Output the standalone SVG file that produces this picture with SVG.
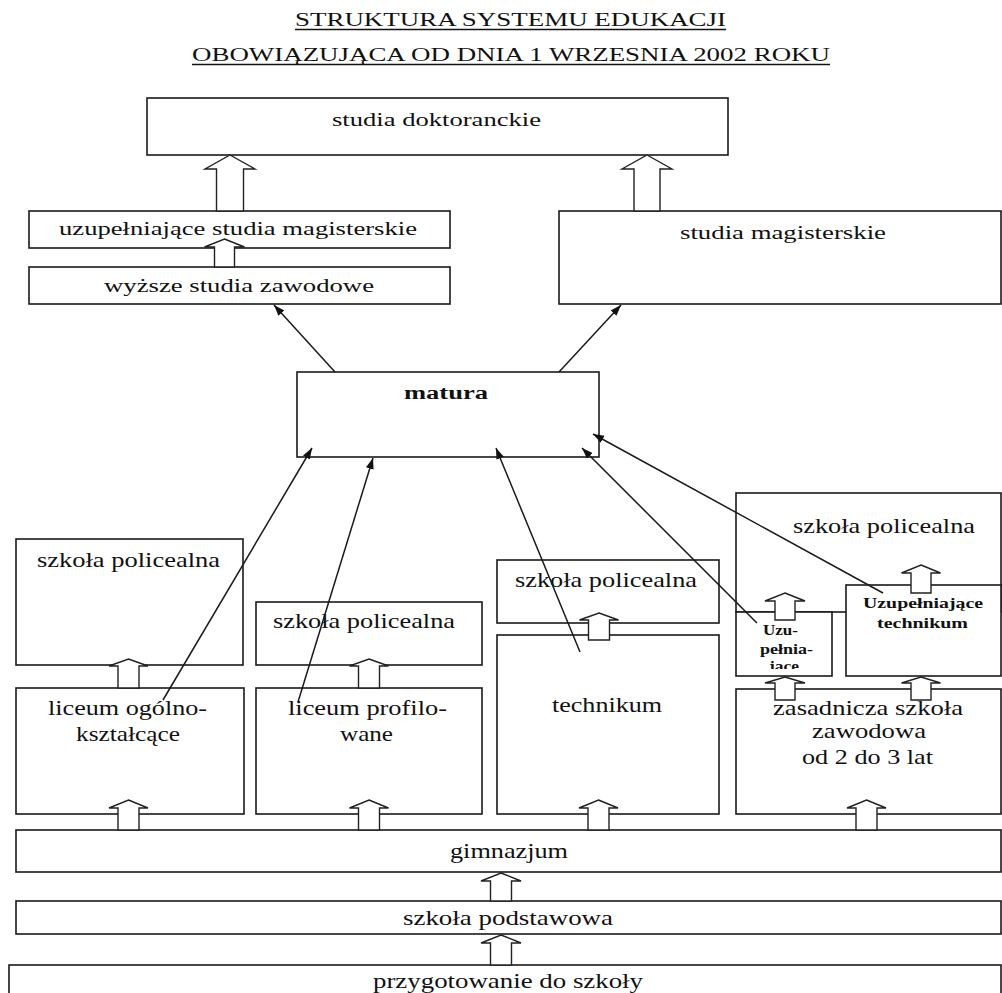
<svg xmlns="http://www.w3.org/2000/svg" width="1002" height="993" viewBox="0 0 1002 993">
<style>
.box{fill:#fff;stroke:#1a1a1a;stroke-width:1.6}
.t{font-family:"Liberation Serif","Times New Roman",serif;fill:#111;text-anchor:middle}
.s18{font-size:18px}
.s22{font-size:22px}
.s15{font-size:15px}
.s14{font-size:14px}
.title{font-size:19px}
.blk{fill:#fff;stroke:#222;stroke-width:1.4;stroke-linejoin:miter}
.ln{stroke:#1a1a1a;stroke-width:1.5;fill:none;marker-end:url(#ah)}
.ul{stroke:#111;stroke-width:1.3}
</style>
<defs>
<marker id="ah" markerUnits="userSpaceOnUse" markerWidth="12" markerHeight="10" refX="11" refY="4" orient="auto">
<path d="M0,0 L11,4 L0,8 Z" fill="#111"/>
</marker>
<clipPath id="clipUzu"><rect x="736" y="612" width="96" height="57"/></clipPath>
</defs>
<rect width="1002" height="993" fill="#fff"/>

<g id="title">
<text class="t title" x="510.5" y="26" textLength="431" lengthAdjust="spacingAndGlyphs">STRUKTURA SYSTEMU EDUKACJI</text>
<line class="ul" x1="295" y1="29.5" x2="726" y2="29.5"/>
<text class="t title" x="511" y="61" textLength="638" lengthAdjust="spacingAndGlyphs">OBOWIĄZUJĄCA OD DNIA 1 WRZESNIA 2002 ROKU</text>
<line class="ul" x1="192" y1="64.5" x2="830" y2="64.5"/>
</g>

<g id="n-doktoranckie"><rect class="box" x="147" y="98" width="581" height="57"/><text class="t s18" x="436.5" y="126" textLength="209" lengthAdjust="spacingAndGlyphs">studia doktoranckie</text></g>
<g id="n-uzup-mag"><rect class="box" x="29" y="211" width="421" height="37"/><text class="t s18" x="238" y="235" textLength="358" lengthAdjust="spacingAndGlyphs">uzupełniające studia magisterskie</text></g>
<g id="n-wyzsze"><rect class="box" x="29" y="267" width="421" height="37"/><text class="t s18" x="239" y="292" textLength="270" lengthAdjust="spacingAndGlyphs">wyższe studia zawodowe</text></g>
<g id="n-studia-mag"><rect class="box" x="559" y="211" width="442" height="93"/><text class="t s18" x="783" y="239" textLength="206" lengthAdjust="spacingAndGlyphs">studia magisterskie</text></g>
<g id="n-matura"><rect class="box" x="297" y="372" width="302" height="85"/><text class="t s18" x="446" y="399" font-weight="bold" textLength="84" lengthAdjust="spacingAndGlyphs">matura</text></g>

<g id="n-policealna-1"><rect class="box" x="16" y="539" width="227" height="126"/><text class="t s22" x="128.5" y="567" textLength="183" lengthAdjust="spacingAndGlyphs">szkoła policealna</text></g>
<g id="n-policealna-2"><rect class="box" x="256" y="602" width="226" height="63"/><text class="t s22" x="364" y="628" textLength="182" lengthAdjust="spacingAndGlyphs">szkoła policealna</text></g>
<g id="n-policealna-3"><rect class="box" x="497" y="560" width="222" height="63"/><text class="t s22" x="606" y="587" textLength="182" lengthAdjust="spacingAndGlyphs">szkoła policealna</text></g>
<g id="n-technikum"><rect class="box" x="497" y="635" width="222" height="179"/><text class="t s22" x="607" y="712" textLength="110" lengthAdjust="spacingAndGlyphs">technikum</text></g>
<g id="n-policealna-4"><rect class="box" x="736" y="493" width="265" height="119"/><text class="t s22" x="884" y="533" textLength="182" lengthAdjust="spacingAndGlyphs">szkoła policealna</text></g>
<g id="n-uzu"><rect class="box" x="736" y="612" width="96" height="64"/>
<g clip-path="url(#clipUzu)">
<text class="t s14" x="780.5" y="635" font-weight="bold" textLength="35" lengthAdjust="spacingAndGlyphs">Uzu-</text>
<text class="t s14" x="786.5" y="654" font-weight="bold" textLength="53" lengthAdjust="spacingAndGlyphs">pełnia-</text>
<text class="t s14" x="784" y="671" font-weight="bold" textLength="30" lengthAdjust="spacingAndGlyphs">jące</text>
</g></g>
<g id="n-uzup-tech"><rect class="box" x="846" y="585" width="155" height="91"/>
<text class="t s15" x="923" y="608" font-weight="bold" textLength="120" lengthAdjust="spacingAndGlyphs">Uzupełniające</text>
<text class="t s15" x="922.5" y="628" font-weight="bold" textLength="91" lengthAdjust="spacingAndGlyphs">technikum</text></g>
<g id="n-liceum-ogolno"><rect class="box" x="16" y="688" width="228" height="126"/>
<text class="t s22" x="127.5" y="715" textLength="159" lengthAdjust="spacingAndGlyphs">liceum ogólno-</text>
<text class="t s22" x="128" y="741" textLength="104" lengthAdjust="spacingAndGlyphs">kształcące</text></g>
<g id="n-liceum-prof"><rect class="box" x="256" y="688" width="226" height="126"/>
<text class="t s22" x="367.5" y="715" textLength="159" lengthAdjust="spacingAndGlyphs">liceum profilo-</text>
<text class="t s22" x="366.5" y="741" textLength="53" lengthAdjust="spacingAndGlyphs">wane</text></g>
<g id="n-zasadnicza"><rect class="box" x="736" y="689" width="265" height="125"/>
<text class="t s22" x="868" y="715" textLength="190" lengthAdjust="spacingAndGlyphs">zasadnicza szkoła</text>
<text class="t s22" x="869" y="738" textLength="114" lengthAdjust="spacingAndGlyphs">zawodowa</text>
<text class="t s22" x="867.5" y="764" textLength="131" lengthAdjust="spacingAndGlyphs">od 2 do 3 lat</text></g>
<g id="n-gimnazjum"><rect class="box" x="16" y="830" width="985" height="42"/><text class="t s22" x="509" y="858" textLength="118" lengthAdjust="spacingAndGlyphs">gimnazjum</text></g>
<g id="n-podstawowa"><rect class="box" x="16" y="901" width="985" height="33"/><text class="t s22" x="508" y="925" textLength="210" lengthAdjust="spacingAndGlyphs">szkoła podstawowa</text></g>
<g id="n-przygotowanie"><rect class="box" x="9" y="965" width="992" height="40"/><text class="t s22" x="508" y="988" textLength="270" lengthAdjust="spacingAndGlyphs">przygotowanie do szkoły</text></g>

<g id="connectors">
<polygon class="blk" points="230,155 255,169 243.5,169 243.5,211 216.5,211 216.5,169 205,169"/>
<polygon class="blk" points="647,155 672,169 660,169 660,211 634,211 634,169 622,169"/>
<polygon class="blk" points="224.5,239 244.5,247 234.5,247 234.5,267 214.5,267 214.5,247 204.5,247"/>
<polygon class="blk" points="128.5,659 148,666 139,666 139,688 118,688 118,666 109,666"/>
<polygon class="blk" points="128.5,800 148,808 139,808 139,830 118,830 118,808 109,808"/>
<polygon class="blk" points="369,659 388.5,666 379.5,666 379.5,688 358.5,688 358.5,666 349.5,666"/>
<polygon class="blk" points="369,800 388.5,808 379.5,808 379.5,830 358.5,830 358.5,808 349.5,808"/>
<polygon class="blk" points="598.5,800 618,808 609,808 609,830 588,830 588,808 579,808"/>
<polygon class="blk" points="599,613 618.5,620 609.5,620 609.5,640 588.5,640 588.5,620 579.5,620"/>
<polygon class="blk" points="866.5,800 886,808 877,808 877,830 856,830 856,808 847,808"/>
<polygon class="blk" points="785,677 805,683 795,683 795,700 775,700 775,683 765,683"/>
<polygon class="blk" points="921,677 940.5,683 931,683 931,700 911,700 911,683 901.5,683"/>
<polygon class="blk" points="785,593 805,601 795,601 795,620 775,620 775,601 765,601"/>
<polygon class="blk" points="921,565 940.5,573 931,573 931,593 911,593 911,573 901.5,573"/>
<polygon class="blk" points="501,873 521,881 511.5,881 511.5,901 490.5,901 490.5,881 481,881"/>
<polygon class="blk" points="501,935 521,943 511.5,943 511.5,965 490.5,965 490.5,943 481,943"/>
<line class="ln" x1="335" y1="372" x2="274" y2="305"/>
<line class="ln" x1="559" y1="372" x2="621" y2="305"/>
<line class="ln" x1="163" y1="700" x2="312" y2="448"/>
<line class="ln" x1="298" y1="702" x2="373" y2="458"/>
<line class="ln" x1="580" y1="652" x2="496" y2="448"/>
<line class="ln" x1="757" y1="623" x2="582" y2="448"/>
<line class="ln" x1="883" y1="593" x2="593" y2="434"/>
</g>
</svg>
